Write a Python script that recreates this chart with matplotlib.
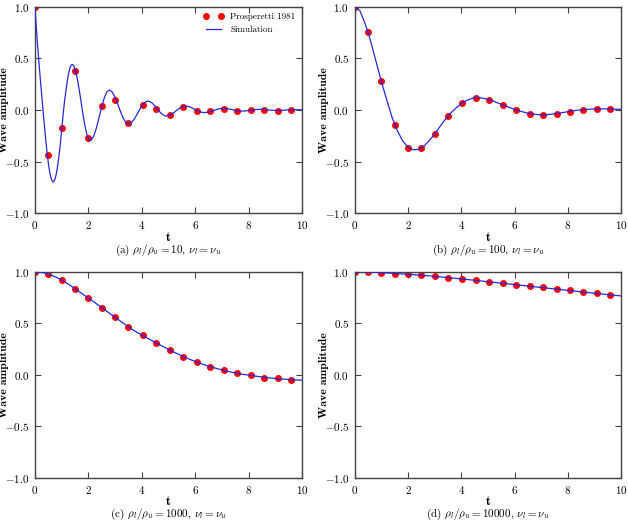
import numpy as np
import matplotlib
matplotlib.use("Agg")
import matplotlib.pyplot as plt

# Prosperetti (1981) reference points, sampled at the same times in every case
t_ref = [0.0, 0.5, 1.0, 1.5, 2.0, 2.5, 3.0, 3.5, 4.04, 4.54, 5.05, 5.55,
         6.06, 6.56, 7.07, 7.57, 8.08, 8.58, 9.09, 9.59]

ref_10 = [1.0, -0.435, -0.17, 0.377, -0.274, 0.039, 0.097, -0.129, 0.052, 0.01,
          -0.045, 0.029, -0.013, -0.013, 0.01, -0.01, -0.003, 0.003, -0.006, -0.003]
ref_100 = [1.0, 0.755, 0.277, -0.148, -0.365, -0.365, -0.232, -0.061, 0.065, 0.116,
           0.10, 0.052, 0.0, -0.035, -0.045, -0.035, -0.016, 0.003, 0.01, 0.01]
ref_1000 = [1.0, 0.977, 0.919, 0.835, 0.745, 0.652, 0.558, 0.465, 0.384, 0.306,
            0.239, 0.177, 0.126, 0.081, 0.045, 0.016, -0.006, -0.026, -0.035, -0.045]
ref_10000 = [1.0, 0.997, 0.99, 0.981, 0.974, 0.965, 0.955, 0.942, 0.929, 0.916,
             0.90, 0.887, 0.874, 0.861, 0.848, 0.832, 0.819, 0.803, 0.79, 0.777]

# simulation curves (finer steps over the first fast oscillations of case a)
t_sim_10 = [i / 20 for i in range(42)] + [i / 10 for i in range(21, 101)]
sim_10 = [1.00, 0.80, 0.62, 0.455, 0.30, 0.15, 0.00, -0.143, -0.28, -0.405,
          -0.513, -0.599, -0.659, -0.692, -0.695, -0.669, -0.617, -0.540, -0.441, -0.325,
          -0.194, -0.056, 0.07, 0.169, 0.263, 0.342, 0.40, 0.434, 0.441, 0.428,
          0.395, 0.346, 0.281, 0.206, 0.124, 0.038, -0.045, -0.122, -0.189, -0.242,
          -0.279, -0.295,
          -0.293, -0.253, -0.174, -0.073, 0.032, 0.122, 0.179, 0.194, 0.172,
          0.124, 0.058, -0.013, -0.076, -0.120, -0.135, -0.125, -0.095, -0.053, -0.005,
          0.040, 0.072, 0.087, 0.082, 0.065, 0.037, 0.005, -0.025, -0.048, -0.058,
          -0.055, -0.044, -0.026, -0.005, 0.015, 0.030, 0.038, 0.036, 0.030, 0.018,
          0.004, -0.009, -0.019, -0.024, -0.024, -0.020, -0.013, -0.004, 0.005, 0.012,
          0.016, 0.016, 0.013, 0.009, 0.003, -0.002, -0.007, -0.010, -0.010, -0.008,
          -0.005, -0.001, 0.002, 0.005, 0.006, 0.006, 0.004, 0.002, -0.001, -0.003,
          -0.004, -0.004, -0.004, -0.002, 0.000, 0.002, 0.003, 0.003, 0.003, 0.002,
          0.001]

t_sim_100 = [i / 5 for i in range(51)]
sim_100 = [1.00, 0.96, 0.83, 0.665, 0.47, 0.277, 0.10, -0.07, -0.20, -0.30,
           -0.36, -0.385, -0.38, -0.35, -0.295, -0.232, -0.16, -0.09, -0.03, 0.02,
           0.062, 0.093, 0.112, 0.12, 0.115, 0.103, 0.086, 0.065, 0.045, 0.025,
           0.006, -0.010, -0.025, -0.036, -0.043, -0.046, -0.045, -0.040, -0.033, -0.025,
           -0.016, -0.008, -0.001, 0.004, 0.008, 0.010, 0.011, 0.011, 0.010, 0.008,
           0.006]

t_sim_1000 = [i / 5 for i in range(51)]
sim_1000 = [1.000, 0.996, 0.985, 0.968, 0.946, 0.920, 0.888, 0.853, 0.817, 0.781,
            0.745, 0.708, 0.671, 0.633, 0.596, 0.558, 0.521, 0.484, 0.447, 0.415,
            0.386, 0.357, 0.329, 0.301, 0.274, 0.247, 0.221, 0.196, 0.172, 0.150,
            0.130, 0.111, 0.093, 0.077, 0.062, 0.048, 0.035, 0.024, 0.014, 0.005,
            -0.003, -0.010, -0.017, -0.024, -0.030, -0.035, -0.039, -0.043, -0.046, -0.049,
            -0.052]

t_sim_10000 = [i / 2 for i in range(21)]
sim_10000 = [1.000, 0.997, 0.991, 0.983, 0.975, 0.966, 0.955, 0.943, 0.930, 0.917,
             0.903, 0.889, 0.875, 0.861, 0.847, 0.833, 0.819, 0.805, 0.791, 0.778,
             0.765]

captions = [r"(a) $\rho_l/\rho_u = 10$, $\nu_l = \nu_u$",
            r"(b) $\rho_l/\rho_u = 100$, $\nu_l = \nu_u$",
            r"(c) $\rho_l/\rho_u = 1000$, $\nu_l = \nu_u$",
            r"(d) $\rho_l/\rho_u = 10000$, $\nu_l = \nu_u$"]

if __name__ == "__main__":

    matplotlib.rcParams.update({'font.size': 8,
                                'font.family': 'serif',
                                'font.serif': ['cmr10'],
                                'mathtext.fontset': 'cm',
                                'axes.formatter.use_mathtext': True,
                                'axes.unicode_minus': True})

    cases = [(t_sim_10, sim_10, ref_10),
             (t_sim_100, sim_100, ref_100),
             (t_sim_1000, sim_1000, ref_1000),
             (t_sim_10000, sim_10000, ref_10000)]

    boxes = [[0.0557, 0.5921, 0.4252, 0.3951],
             [0.5648, 0.5921, 0.4245, 0.3951],
             [0.0557, 0.0860, 0.4252, 0.3945],
             [0.5648, 0.0860, 0.4245, 0.3945]]

    fig = plt.figure(figsize=(6.28, 5.23), dpi=100)

    for i in range(4):
        t_sim, sim, ref = cases[i]
        ax = fig.add_axes(boxes[i])
        ax.plot(t_ref, ref, "o", color="red", markeredgecolor="red",
                markersize=4, label="Prosperetti 1981", zorder=2)
        ax.plot(t_sim, sim, "-", color="#2828d8", lw=0.9,
                label="Simulation", zorder=3)
        ax.set_xlim(0, 10)
        ax.set_ylim(-1, 1)
        ax.set_xticks([0, 2, 4, 6, 8, 10])
        ax.set_yticks([-1.0, -0.5, 0.0, 0.5, 1.0])
        ax.yaxis.set_major_formatter(matplotlib.ticker.FormatStrFormatter(r"$%.1f$"))
        ax.xaxis.set_major_formatter(matplotlib.ticker.FormatStrFormatter(r"$%d$"))
        ax.tick_params(direction="in", top=True, right=True, length=4,
                       width=0.8, color="#444444", labelsize=8, pad=4)
        for s in ax.spines.values():
            s.set_color("#444444")
            s.set_linewidth(1.0)
        ax.set_xlabel("t", fontfamily="cmb10", fontsize=9, labelpad=0.5)
        ax.set_ylabel("Wave amplitude", fontfamily="cmb10", fontsize=8.5)
        ax.yaxis.set_label_coords(-0.097, 0.5)
        ax.text(0.5, -0.178, captions[i], transform=ax.transAxes,
                ha="center", va="center", fontsize=8)
        if i == 0:
            ax.legend(loc="upper right", numpoints=2, frameon=False,
                      fontsize=6.5, handlelength=2.2, borderaxespad=0.3)

    fig.savefig("out.png", dpi=100)
    plt.close(fig)
